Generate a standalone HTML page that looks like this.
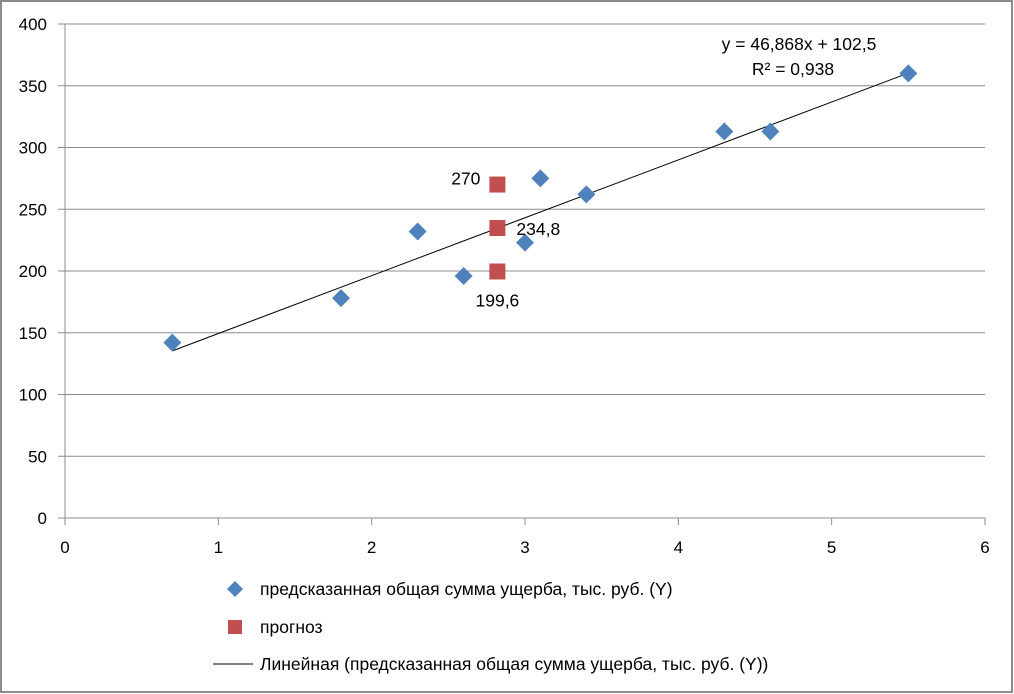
<!DOCTYPE html>
<html><head><meta charset="utf-8"><style>
html,body{margin:0;padding:0;background:#fff}
svg{display:block;font-family:"Liberation Sans","DejaVu Sans",sans-serif}
</style></head><body>
<svg id="chart" width="1014" height="694" viewBox="0 0 1014 694">
<rect x="1" y="1" width="1011" height="691" fill="#fff" stroke="#8c8c8c" stroke-width="2"/>
<g id="grid"></g>
<g id="axes"></g>
<g id="trend"></g>
<g id="pts"></g>
<text x="799" y="50" font-size="17.5" text-anchor="middle" fill="#000">y = 46,868x + 102,5</text>
<text x="793" y="75" font-size="17.5" text-anchor="middle" fill="#000">R² = 0,938</text>
<g>
<polygon points="235,581 243,589 235,597 227,589" fill="#4f81bd"/>
<text x="260" y="595" font-size="17.5">предсказанная общая сумма ущерба, тыс. руб. (Y)</text>
<rect x="228" y="620" width="14" height="14" fill="#c0504d"/>
<text x="260" y="633" font-size="17.5">прогноз</text>
<line x1="213" y1="664" x2="253" y2="664" stroke="#000" stroke-width="1"/>
<text x="260" y="670" font-size="17.5">Линейная (предсказанная общая сумма ущерба, тыс. руб. (Y))</text>
</g>
</svg>
<script>
const xs=[0.7,1.8,2.3,2.6,3.0,3.1,3.4,4.3,4.6,5.5];
const ys=[142,178,232,196,223,275,262,313,313,360];
const fx=[2.82,2.82,2.82];
const fy=[270,234.8,199.6];
const fLabels=["270","234,8","199,6"];
const yTicks=[0,50,100,150,200,250,300,350,400];
const xTicks=[0,1,2,3,4,5,6];
const slope=46.868, intercept=102.5;
const NS="http://www.w3.org/2000/svg";
const X=v=>65+v*(985-65)/6;
const Y=v=>518-v*(518-24)/400;
function mk(tag,attrs,parent,text){const e=document.createElementNS(NS,tag);for(const k in attrs)e.setAttribute(k,attrs[k]);if(text!==undefined)e.textContent=text;parent.appendChild(e);return e;}
const grid=document.getElementById('grid'),axes=document.getElementById('axes'),trend=document.getElementById('trend'),pts=document.getElementById('pts');
yTicks.forEach(t=>{
 if(t>0){const g=mk('line',{x1:65,x2:985,y1:Y(t),y2:Y(t),stroke:'#8c8c8c','stroke-width':1},grid);
 
 }
 const tk=mk('line',{x1:58,x2:65,y1:Y(t),y2:Y(t),stroke:'#8c8c8c'},axes);
 
 
 const l=mk('text',{x:47,y:Y(t)+6,'font-size':17,'text-anchor':'end'},axes,String(t));
 
 
});
xTicks.forEach(t=>{
 const tk=mk('line',{x1:X(t),x2:X(t),y1:518,y2:525,stroke:'#8c8c8c'},axes);
 
 
 const l=mk('text',{x:X(t),y:553,'font-size':17,'text-anchor':'middle'},axes,String(t));
 
 
});
const ya=mk('line',{x1:65,x2:65,y1:24,y2:518,stroke:'#8c8c8c'},axes);


const xa=mk('line',{x1:65,x2:985,y1:518,y2:518,stroke:'#8c8c8c'},axes);


const x0=Math.min(...xs),x1=Math.max(...xs);
const tl=mk('line',{x1:X(x0),y1:Y(slope*x0+intercept),x2:X(x1),y2:Y(slope*x1+intercept),stroke:'#000','stroke-width':1},trend);


xs.forEach((x,i)=>{const cx=X(x),cy=Y(ys[i]);
 const p=mk('polygon',{points:`${cx},${cy-9} ${cx+9},${cy} ${cx},${cy+9} ${cx-9},${cy}`,fill:'#4f81bd'},pts);
 
 
});
const offs=[[-17,0,'end'],[19,7,'start'],[0,35,'middle']];
fx.forEach((x,i)=>{const cx=X(x),cy=Y(fy[i]);
 const r=mk('rect',{x:cx-8,y:cy-8,width:16,height:16,fill:'#c0504d'},pts);
 
 
 const o=offs[i%3];
 const t=mk('text',{x:cx+o[0],y:cy+o[1],'font-size':17.5,'text-anchor':o[2]},pts,fLabels[i]);
 
 
});
</script>
</body></html>
